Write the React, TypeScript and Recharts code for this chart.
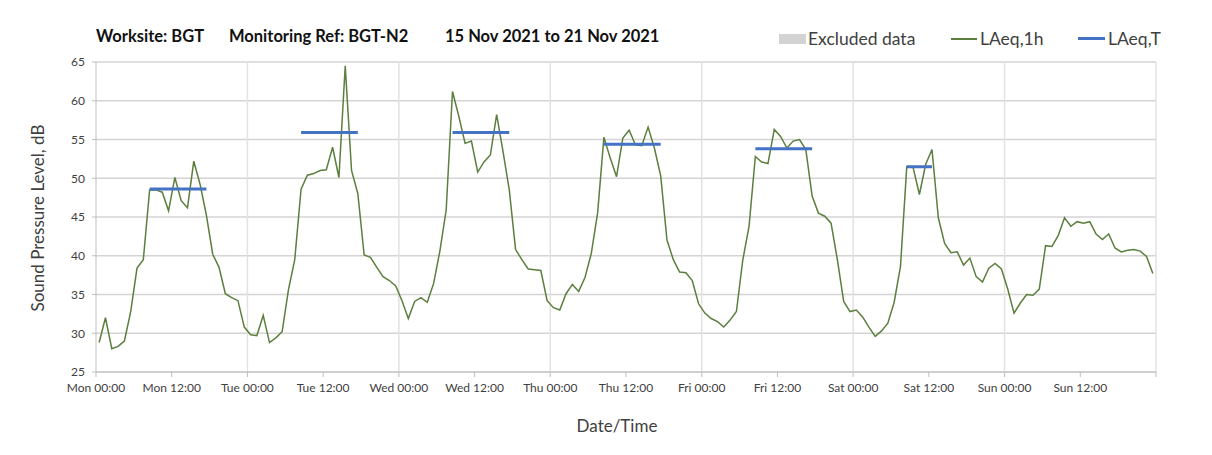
// Noise monitoring chart: hourly LAeq,1h with daytime LAeq,T segments

import { LineChart, Line, XAxis, YAxis, CartesianGrid, ReferenceLine } from "recharts";

const FONT = "Lato, 'Open Sans', sans-serif";

// hourly LAeq,1h, Mon 00:00 .. Sun 23:00
const LAEQ_1H = [
  28.8, 32.0, 28.0, 28.3, 29.0, 32.8, 38.4, 39.5, 48.5, 48.5, 48.2, 45.8, 50.1, 47.1, 46.2, 52.2,
  49.2, 45.2, 40.2, 38.5, 35.1, 34.6, 34.2, 30.8, 29.8, 29.7, 32.3, 28.8, 29.4, 30.2, 35.6, 39.5,
  48.6, 50.4, 50.6, 51.0, 51.1, 54.0, 50.1, 64.5, 51.0, 48.0, 40.1, 39.8, 38.5, 37.3, 36.8, 36.1,
  34.2, 31.9, 34.1, 34.6, 34.0, 36.4, 40.6, 45.9, 61.2, 58.0, 54.5, 54.8, 50.8, 52.1, 53.0, 58.2,
  53.5, 48.5, 40.8, 39.5, 38.3, 38.2, 38.1, 34.2, 33.3, 33.0, 35.1, 36.3, 35.4, 37.2, 40.3, 45.5,
  55.3, 52.6, 50.2, 55.2, 56.2, 54.3, 54.2, 56.6, 53.9, 50.3, 42.0, 39.5, 37.9, 37.8, 36.8, 33.8,
  32.6, 31.9, 31.5, 30.8, 31.7, 32.8, 39.4, 43.8, 52.8, 52.1, 51.9, 56.3, 55.4, 53.9, 54.8, 55.0,
  53.7, 47.7, 45.5, 45.1, 44.2, 39.5, 34.1, 32.8, 33.0, 32.1, 30.8, 29.6, 30.3, 31.3, 34.0, 38.6,
  51.5, 51.4, 47.9, 51.8, 53.7, 44.9, 41.6, 40.4, 40.5, 38.8, 39.7, 37.3, 36.6, 38.4, 39.0, 38.3,
  35.7, 32.6, 33.9, 35.0, 34.9, 35.7, 41.3, 41.2, 42.6, 44.9, 43.8, 44.4, 44.2, 44.4, 42.8, 42.1,
  42.8, 41.0, 40.5, 40.7, 40.8, 40.6, 39.9, 37.7,
];

// daytime LAeq,T periods (first and last hour index, level)
const PERIOD_START = [8, 32, 56, 80, 104, 128];
const PERIOD_END = [17, 41, 65, 89, 113, 132];
const PERIOD_LAEQ_T = [48.6, 55.9, 55.9, 54.4, 53.8, 51.5];

const X_TICKS = [0, 12, 24, 36, 48, 60, 72, 84, 96, 108, 120, 132, 144, 156, 168];
const X_TICK_LABELS = [
  "Mon 00:00", "Mon 12:00", "Tue 00:00", "Tue 12:00", "Wed 00:00", "Wed 12:00", "Thu 00:00",
  "Thu 12:00", "Fri 00:00", "Fri 12:00", "Sat 00:00", "Sat 12:00", "Sun 00:00", "Sun 12:00", "",
];
const DAY_LINES = [24, 48, 72, 96, 120, 144, 168];
const Y_TICKS = [25, 30, 35, 40, 45, 50, 55, 60, 65];

const data = LAEQ_1H.map((v, i) => {
  const p = PERIOD_START.findIndex((s, k) => i >= s && i <= PERIOD_END[k]);
  return { t: i + 0.5, laeq1h: v, laeqT: p >= 0 ? PERIOD_LAEQ_T[p] : null };
});

const textStyle: React.CSSProperties = {
  position: "absolute",
  fontFamily: FONT,
  whiteSpace: "pre",
  lineHeight: 1,
};

export default function App() {
  return (
    <div style={{ position: "relative", width: 1212, height: 455, margin: -8, overflow: "hidden", background: "#fff" }}>
      <div style={{ position: "absolute", left: 4, top: 5, width: 1300, height: 600, border: "1px solid #D9D9D9" }} />

      <div style={{ ...textStyle, left: 96, top: 28, fontSize: 16.5, fontWeight: 700, color: "#111" }}>Worksite: BGT</div>
      <div style={{ ...textStyle, left: 229, top: 28, fontSize: 16.5, fontWeight: 700, color: "#111" }}>Monitoring Ref: BGT-N2</div>
      <div style={{ ...textStyle, left: 445, top: 28, fontSize: 16.5, fontWeight: 700, color: "#111" }}>15 Nov 2021 to 21 Nov 2021</div>

      <div style={{ position: "absolute", left: 779, top: 34, width: 27, height: 10, background: "#D3D3D3" }} />
      <div style={{ ...textStyle, left: 808, top: 30, fontSize: 17.5, color: "#404040" }}>Excluded data</div>
      <div style={{ position: "absolute", left: 951, top: 38, width: 26, height: 2, background: "#5B7F3E" }} />
      <div style={{ ...textStyle, left: 980, top: 30, fontSize: 17.5, color: "#404040" }}>LAeq,1h</div>
      <div style={{ position: "absolute", left: 1078, top: 37, width: 27, height: 3, background: "#4472C4" }} />
      <div style={{ ...textStyle, left: 1108, top: 30, fontSize: 17.5, color: "#404040" }}>LAeq,T</div>

      <div
        style={{
          ...textStyle,
          left: 37,
          top: 218,
          fontSize: 17,
          color: "#404040",
          transform: "translate(-50%, -50%) rotate(-90deg)",
        }}
      >
        Sound Pressure Level, dB
      </div>
      <div style={{ ...textStyle, left: 617, top: 425, fontSize: 17, color: "#404040", transform: "translate(-50%, -50%)" }}>
        Date/Time
      </div>

      <div style={{ position: "absolute", left: 0, top: 0 }}>
        <LineChart width={1212} height={455} data={data} margin={{ top: 62, right: 56, bottom: 53, left: 40 }}>
          <CartesianGrid vertical={false} stroke="#D4D4D4" strokeWidth={1.5} />
          {DAY_LINES.map((d) => (
            <ReferenceLine key={d} x={d} stroke="#E2E2E2" strokeWidth={1.5} />
          ))}
          <XAxis
            dataKey="t"
            type="number"
            domain={[0, 168]}
            ticks={X_TICKS}
            tickFormatter={(v: number) => X_TICK_LABELS[X_TICKS.indexOf(v)] ?? ""}
            interval={0}
            height={30}
            tickSize={5}
            tickMargin={6}
            stroke="#BFBFBF"
            tick={{ fontSize: 12, fill: "#404040", fontFamily: FONT }}
          />
          <YAxis
            domain={[25, 65]}
            ticks={Y_TICKS}
            interval={0}
            width={56}
            tickSize={4}
            tickMargin={7}
            stroke="#BFBFBF"
            tick={{ fontSize: 12, fill: "#404040", fontFamily: FONT }}
          />
          <Line
            dataKey="laeq1h"
            type="linear"
            stroke="#5B7F3E"
            strokeWidth={1.5}
            dot={false}
            isAnimationActive={false}
          />
          <Line
            dataKey="laeqT"
            type="linear"
            stroke="#4472C4"
            strokeWidth={3}
            dot={false}
            connectNulls={false}
            isAnimationActive={false}
          />
        </LineChart>
      </div>
    </div>
  );
}
